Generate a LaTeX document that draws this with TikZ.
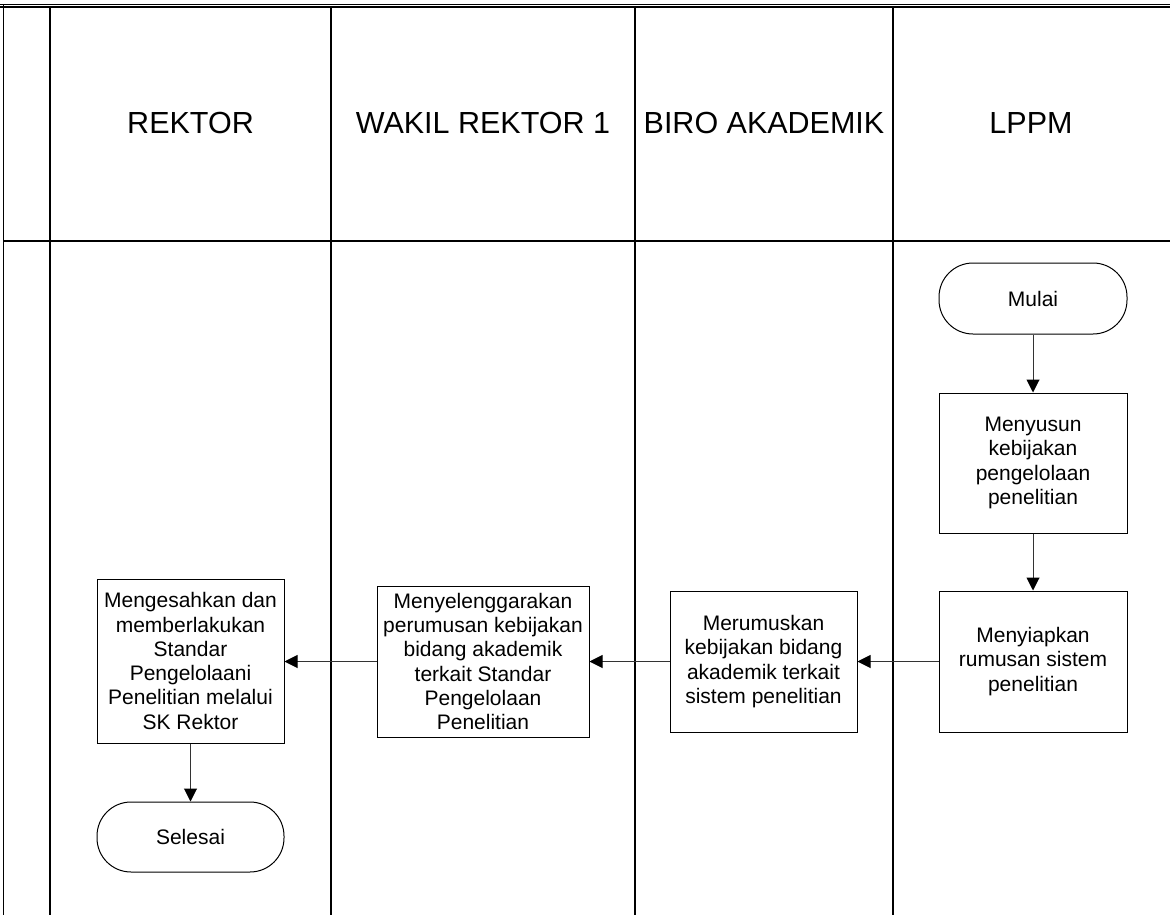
\documentclass[tikz,border=0pt]{standalone}
\usepackage{fontspec}
\setmainfont{Liberation Sans}
\usetikzlibrary{arrows.meta}
\tikzset{
  lane/.style={line width=1.5pt, black},
  box/.style={draw, line width=1pt, inner sep=0pt, align=center,
    font=\fontsize{21}{24.3}\selectfont},
  term/.style={box, rounded corners=34pt},
  head/.style={font=\fontsize{30.5}{34}\selectfont, inner sep=0pt},
  arr/.style={line width=1pt, black!80, -{Triangle[length=13pt,width=13pt,fill=black,color=black]}}
}
\begin{document}
\begin{tikzpicture}[x=1pt,y=-1pt]
\useasboundingbox (0,0) rectangle (1170,915);
% frame and lanes
\draw[line width=1.2pt] (0,4.5) -- (1170,4.5);
\draw[line width=1.2pt] (0,7) -- (1170,7);
\draw[lane] (3.3,4.5) -- (3.3,915);
\draw[lane, line width=2pt] (3.3,241) -- (1170,241);
\foreach \x in {50,331,635,893} \draw[lane] (\x,7) -- (\x,915);
% headers
\node[head] (h1) at (190.5,123) {REKTOR};
\node[head] (h2) at (483,123) {WAKIL REKTOR 1};
\node[head] (h3) at (764,123) {BIRO AKADEMIK};
\node[head] (h4) at (1031,123) {LPPM};
% nodes
\node[term, minimum width=188pt, minimum height=71pt] (mulai) at (1033,298.5) {Mulai};
\node[box, minimum width=188pt, minimum height=140pt] (susun) at (1033,463)
  {Menyusun\\kebijakan\\pengelolaan\\penelitian};
\node[box, minimum width=188pt, minimum height=141pt] (siap) at (1033,661.5)
  {Menyiapkan\\rumusan sistem\\penelitian};
\node[box, minimum width=187pt, minimum height=141pt] (rumus) at (763.5,661.5)
  {Merumuskan\\kebijakan bidang\\akademik terkait\\sistem penelitian};
\node[box, minimum width=212pt, minimum height=151pt] (selenggara) at (483,661.5)
  {Menyelenggarakan\\perumusan kebijakan\\bidang akademik\\terkait Standar\\Pengelolaan\\Penelitian};
\node[box, minimum width=187pt, minimum height=164pt] (sah) at (190.5,661)
  {Mengesahkan dan\\memberlakukan\\Standar\\Pengelolaani\\Penelitian melalui\\SK Rektor};
\node[term, minimum width=187pt, minimum height=70pt] (selesai) at (190.5,837) {Selesai};
% connectors
\draw[arr] (mulai) -- (susun);
\draw[arr] (susun) -- (siap);
\draw[arr] (siap) -- (rumus);
\draw[arr] (rumus.west) -- (rumus.west -| selenggara.east);
\draw[arr] (selenggara.west) -- (selenggara.west -| sah.east);
\draw[arr] (sah) -- (selesai);
\end{tikzpicture}
\end{document}
